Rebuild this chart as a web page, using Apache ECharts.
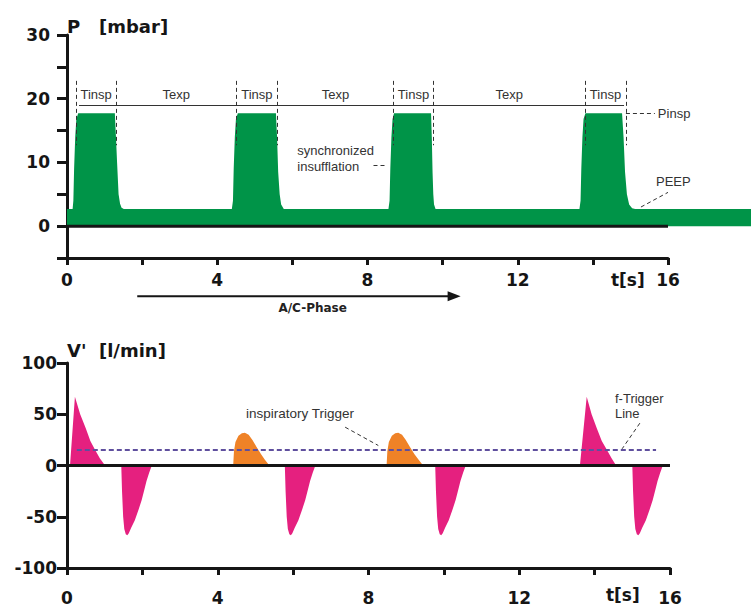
<!DOCTYPE html>
<html><head><meta charset="utf-8">
<script src="https://cdn.jsdelivr.net/npm/echarts@6/dist/echarts.min.js"></script>
<style>html,body{margin:0;padding:0;background:#fff}#c{width:751px;height:606px}</style>
</head><body><div id="c"></div>
<script>
// ---- data ----
const timeTickLabels = [0, 4, 8, 12, 16];
const pressureTickLabels = [0, 10, 20, 30];
const flowTickLabels = [-100, -50, 0, 50, 100];

const pressureTime = [0, 0.15, 0.17, 0.19, 0.22, 0.25, 0.3, 1.28, 1.31, 1.34, 1.38, 1.42, 1.46, 1.52,
  4.41, 4.44, 4.46, 4.49, 4.52, 4.57, 5.59, 5.62, 5.65, 5.69, 5.73, 5.8,
  8.6, 8.63, 8.65, 8.68, 8.71, 8.75, 9.74, 9.76, 9.78, 9.8, 9.82, 9.86,
  13.71, 13.74, 13.76, 13.79, 13.82, 13.87, 14.85, 14.89, 14.93, 14.98, 15.04, 15.12, 15.2, 18.3];
const pressureValue = [2.7, 2.7, 4, 9, 14, 16.8, 17.7, 17.7, 14, 10, 5, 3.5, 2.9, 2.7,
  2.7, 4, 9, 14, 16.8, 17.7, 17.7, 14, 8.5, 5, 3.4, 2.7,
  2.7, 4, 9, 14, 16.8, 17.7, 17.7, 14, 8.5, 5, 3.4, 2.7,
  2.7, 4, 9, 14, 16.8, 17.7, 17.7, 14, 8.5, 5, 3.4, 2.8, 2.7, 2.7];

const flowPinkTime = [
  0.08, 0.21, 0.35, 0.5, 0.62, 0.74, 0.87, 1.01,
  1.44, 1.46, 1.49, 1.52, 1.56, 1.6, 1.64, 1.7, 1.8, 1.9, 1.98, 2.05, 2.11, 2.18, 2.25,
  5.78, 5.8, 5.83, 5.86, 5.9, 5.94, 5.98, 6.04, 6.14, 6.24, 6.32, 6.39, 6.45, 6.52, 6.59,
  9.77, 9.79, 9.82, 9.85, 9.89, 9.93, 9.97, 10.03, 10.13, 10.23, 10.31, 10.38, 10.44, 10.51, 10.58,
  13.61, 13.79, 13.92, 14.06, 14.19, 14.32, 14.45, 14.57,
  15.0, 15.02, 15.05, 15.08, 15.12, 15.16, 15.2, 15.26, 15.36, 15.46, 15.54, 15.61, 15.67, 15.74, 15.81];
const flowPinkValue = [
  0, 67, 50, 36, 24, 15.5, 7, 0,
  0, -25, -50, -62, -67, -68, -66, -61, -53.5, -43, -34, -24, -15, -7, 0,
  0, -25, -50, -62, -67, -68, -66, -61, -53.5, -43, -34, -24, -15, -7, 0,
  0, -25, -50, -62, -67, -68, -66, -61, -53.5, -43, -34, -24, -15, -7, 0,
  0, 67, 50, 36, 24, 15.5, 7, 0,
  0, -25, -50, -62, -67, -68, -66, -61, -53.5, -43, -34, -24, -15, -7, 0];

const flowOrangeTime = [
  4.41, 4.43, 4.47, 4.55, 4.64, 4.72, 4.82, 4.92, 5.03, 5.15, 5.25, 5.37,
  8.48, 8.5, 8.54, 8.62, 8.71, 8.79, 8.89, 8.99, 9.1, 9.22, 9.33, 9.45];
const flowOrangeValue = [
  0, 14, 23, 29, 31.5, 32, 30, 25, 18, 11, 5.5, 0,
  0, 14, 23, 29, 31.5, 32, 30, 25, 18, 11, 5.5, 0];

const triggerLevel = 15.6;
const triggerStart = 0.26, triggerEnd = 15.63;

// phase annotation (top chart)
const phaseBounds = [0.24, 1.31, 4.51, 5.6, 8.69, 9.76, 13.79, 14.88];
const phaseNames = ['Tinsp', 'Texp', 'Tinsp', 'Texp', 'Tinsp', 'Texp', 'Tinsp'];

// ---- chart ----
const GREEN = '#009448', PINK = '#e5207f', ORANGE = '#ef8227', PURPLE = '#5f4f9e', INK = '#151515', GREY = '#333';
const BOLD = '"DejaVu Sans", Verdana, sans-serif';
const SANS = '"Liberation Sans", Arial, sans-serif';
const pairs = (ts, vs) => ts.map((t, i) => [t, vs[i]]);

const chart = echarts.init(document.getElementById('c'), null, {renderer: 'svg', width: 751, height: 606});

function xAxisCfg(grid, margin) {
  return {
    gridIndex: grid, type: 'value', min: 0, max: 16, interval: 2,
    axisLine: {onZero: false, lineStyle: {color: INK, width: 3}},
    axisTick: {length: 7, lineStyle: {color: INK, width: 3}},
    splitLine: {show: false},
    axisLabel: {margin: margin, fontSize: 17, fontWeight: 'bold', fontFamily: BOLD, color: INK,
      formatter: v => timeTickLabels.includes(v) ? String(v) : ''}
  };
}
function yAxisCfg(grid, min, max, interval, labels, margin, name, gap) {
  return {
    gridIndex: grid, type: 'value', min: min, max: max, interval: interval,
    axisLine: {show: true, onZero: false, lineStyle: {color: INK, width: 3}},
    axisTick: {show: true, length: 10, lineStyle: {color: INK, width: 3}},
    splitLine: {show: false},
    axisLabel: {margin: margin, fontSize: 17, fontWeight: 'bold', fontFamily: BOLD, color: INK,
      formatter: v => labels.includes(v) ? String(v) : ''},
    name: name, nameLocation: 'end', nameGap: gap,
    nameTextStyle: {align: 'left', fontSize: 18, fontWeight: 'bold', fontFamily: BOLD, color: INK}
  };
}

const thin = {color: GREY, width: 1, type: 'solid'};
const dash = {color: GREY, width: 1, type: [4, 3]};
const seg = (a, b, style) => [{coord: a, lineStyle: style}, {coord: b}];

const topMarks = [seg([0.32, 19.0], [14.83, 19.0], thin)];
phaseBounds.forEach(b => topMarks.push(seg([b, 22.8], [b, 12.7], dash)));
topMarks.push(seg([14.88, 17.7], [15.65, 17.7], dash));
topMarks.push(seg([8.16, 9.6], [8.52, 9.6], dash));
topMarks.push(seg([15.28, 3.0], [16.0, 5.3], dash));

const bottomMarks = [
  seg([triggerStart, triggerLevel], [triggerEnd, triggerLevel], {color: PURPLE, width: 2, type: [5, 3]}),
  seg([7.38, 37.4], [8.26, 19.5], dash),
  seg([15.2, 41.3], [14.73, 16.3], dash)
];

// the pressure trace runs on past the end of the time axis, so it gets its own
// (hidden) axes with the same px-per-second scale, extended to the right edge
const extMax = 18.3;
const option = {
  animation: false,
  backgroundColor: '#fff',
  grid: [
    {left: 67, top: 35, width: 601, height: 223},
    {left: 67, top: 363, width: 603, height: 205},
    {left: 67, top: 35, width: 601 * extMax / 16, height: 223}
  ],
  xAxis: [xAxisCfg(0, 13), xAxisCfg(1, 21),
    {gridIndex: 2, type: 'value', min: 0, max: extMax, show: false}],
  yAxis: [yAxisCfg(0, -5, 30, 5, pressureTickLabels, 17, 'P   [mbar]', 0),
          yAxisCfg(1, -100, 100, 50, flowTickLabels, 10, "V'  [l/min]", 4),
          {gridIndex: 2, type: 'value', min: -5, max: 30, show: false}],
  series: [
    {type: 'line', xAxisIndex: 2, yAxisIndex: 2, data: pairs(pressureTime, pressureValue), symbol: 'none',
     lineStyle: {width: 0}, areaStyle: {color: GREEN, opacity: 1}, z: 2, silent: true},
    {type: 'line', xAxisIndex: 0, yAxisIndex: 0, data: [[0, 0], [16, 0]], symbol: 'none',
     lineStyle: {color: INK, width: 3}, z: 3, silent: true,
     markLine: {silent: true, symbol: ['none', 'none'], label: {show: false}, data: topMarks}},
    {type: 'line', xAxisIndex: 1, yAxisIndex: 1, data: pairs(flowPinkTime, flowPinkValue), symbol: 'none',
     lineStyle: {width: 0}, areaStyle: {color: PINK, opacity: 1}, z: 2, silent: true},
    {type: 'line', xAxisIndex: 1, yAxisIndex: 1, data: pairs(flowOrangeTime, flowOrangeValue), symbol: 'none',
     lineStyle: {width: 0}, areaStyle: {color: ORANGE, opacity: 1}, z: 2, silent: true},
    {type: 'line', xAxisIndex: 1, yAxisIndex: 1, data: [[0, 0], [16, 0]], symbol: 'none',
     lineStyle: {color: INK, width: 3}, z: 3, silent: true,
     markLine: {silent: true, symbol: ['none', 'none'], label: {show: false}, data: bottomMarks}}
  ]
};
chart.setOption(option);

// ---- text annotations placed through the chart's own coordinate conversion ----
const P = (g, pt) => chart.convertToPixel({gridIndex: g}, pt);
const texts = [];
function addText(g, pt, text, opts) {
  const [x, y] = P(g, pt);
  texts.push({type: 'text', x: x, y: y, silent: true, z: 10,
    style: Object.assign({text: text, fill: GREY, font: '13px ' + SANS,
      align: 'left', verticalAlign: 'middle', textAlign: 'left', textVerticalAlign: 'middle'}, opts || {})});
}
for (let i = 0; i < phaseNames.length; i++) {
  addText(0, [(phaseBounds[i] + phaseBounds[i + 1]) / 2, 20.6], phaseNames[i],
    {align: 'center', textAlign: 'center'});
}
addText(0, [15.73, 17.7], 'Pinsp');
addText(0, [6.13, 11.9], 'synchronized');
addText(0, [6.13, 9.4], 'insufflation');
addText(0, [15.68, 6.95], 'PEEP');
addText(1, [4.75, 50.7], 'inspiratory Trigger', {font: '13.5px ' + SANS});
addText(1, [14.54, 65.4], 'f-Trigger');
addText(1, [14.54, 50.7], 'Line');

// time-axis unit labels
const axisFont = 'bold 17px ' + BOLD;
addText(0, [14.48, -8.5], 't[s]', {font: axisFont, fill: INK});
addText(1, [14.3, -126.5], 't[s]', {font: axisFont, fill: INK});

// A/C-Phase arrow below the top time axis
const a0 = P(0, [1.87, -11.0]), a1 = P(0, [10.48, -11.0]);
texts.push({type: 'line', silent: true, shape: {x1: a0[0], y1: a0[1], x2: a1[0] - 11, y2: a1[1]},
  style: {stroke: INK, lineWidth: 2}});
texts.push({type: 'polygon', silent: true,
  shape: {points: [[a1[0], a1[1]], [a1[0] - 13, a1[1] - 5], [a1[0] - 13, a1[1] + 5]]},
  style: {fill: INK}});
const lbl = P(0, [6.54, -12.9]);
texts.push({type: 'text', x: lbl[0], y: lbl[1], silent: true,
  style: {text: 'A/C-Phase', fill: '#222', font: 'bold 12px ' + BOLD, align: 'center', verticalAlign: 'middle',
    textAlign: 'center', textVerticalAlign: 'middle'}});

chart.setOption({graphic: texts});
</script>
</body></html>
